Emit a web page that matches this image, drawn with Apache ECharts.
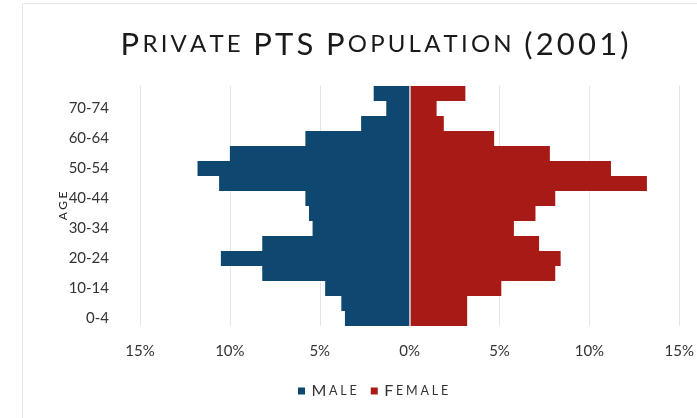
<!DOCTYPE html>
<html><head><meta charset="utf-8">
<script src="https://cdn.jsdelivr.net/npm/echarts@6/dist/echarts.min.js"></script>
<style>html,body{margin:0;padding:0;background:#fff}#c{width:697px;height:418px}</style>
</head><body><div id="c"></div>
<script>
const ageGroups = ['0-4','5-9','10-14','15-19','20-24','25-29','30-34','35-39','40-44','45-49','50-54','55-59','60-64','65-69','70-74','75+'];
const malePct = [3.6,3.8,4.7,8.2,10.5,8.2,5.4,5.6,5.8,10.6,11.8,10.0,5.8,2.7,1.3,2.0];
const femalePct = [3.2,3.2,5.1,8.1,8.4,7.2,5.8,7.0,8.1,13.2,11.2,7.8,4.7,1.9,1.5,3.1];
const xTicks = [-15,-10,-5,0,5,10,15];

const F = 'Lato, "DejaVu Sans", sans-serif';
// small-caps emulation: each character as its own rich token (gives letter spacing via padding)
const sc = (text) => {
  let out = '';
  text.split(' ').forEach((w, wi) => {
    if (wi > 0) out += '{s| }';
    const allCaps = w === w.toUpperCase();
    [...w].forEach((ch, i) => {
      const isBig = allCaps || i === 0 || !/[a-z]/.test(ch);
      out += '{' + (isBig ? 'b' : 's') + '|' + ch.toUpperCase() + '}';
    });
  });
  return out;
};

const chart = echarts.init(document.getElementById('c'));
chart.setOption({
  animation: false,
  backgroundColor: '#fff',
  graphic: [{type:'rect', shape:{x:22.5,y:3.5,width:700,height:420}, style:{fill:'none', stroke:'#e6e6ea', lineWidth:1}, silent:true}],
  title: {
    text: sc('Private PTS Population (2001)'),
    left: 114, top: 24,
    textStyle: { fontWeight: 'normal', rich: {
      b: {fontFamily: F, fontSize: 31, fontWeight: 'normal', color: '#1a1a1a', padding: [0, 1.6]},
      s: {fontFamily: F, fontSize: 24, fontWeight: 'normal', color: '#1a1a1a', padding: [0, 1.6]}
    }}
  },
  legend: {
    bottom: 14, left: 293,
    itemWidth: 7, itemHeight: 7, itemGap: 14,
    icon: 'rect',
    formatter: n => sc(n),
    textStyle: { rich: {
      b: {fontFamily: F, fontSize: 16, color: '#333', padding: [0, 1.4]},
      s: {fontFamily: F, fontSize: 12.5, color: '#333', padding: [0, 1.4]}
    }}
  },
  grid: {left: 140, right: 17, top: 86, bottom: 92},
  xAxis: {
    type: 'value', min: -15, max: 15, interval: 5,
    axisLine: {show: false}, axisTick: {show: false},
    splitLine: {lineStyle: {color: '#e4e4ec', width: 1}},
    axisLabel: {margin: 18, fontFamily: F, fontSize: 15, color: '#333', formatter: v => Math.abs(v) + '%'}
  },
  yAxis: {
    type: 'category', data: ageGroups,
    name: '{n|A}{n|G}{n|E}', nameLocation: 'middle', nameGap: 71, nameRotate: 90, nameMoveOverlap: false,
    nameTextStyle: {fontFamily: F, fontSize: 12, color: '#222', rich: {n: {fontFamily: F, fontSize: 12, color: '#222', padding: [0, 1.2]}}},
    axisLine: {show: false}, axisTick: {show: false},
    axisLabel: {interval: 1, margin: 31, fontFamily: F, fontSize: 15, color: '#333'}
  },
  series: [
    {name: 'Male', type: 'bar', data: malePct.map(v => -v), barGap: '-100%', barCategoryGap: 0,
     itemStyle: {color: '#0e4870'},
     markLine: {silent: true, symbol: 'none', label: {show: false}, lineStyle: {color: '#d8d8e0', type: 'solid', width: 1.5}, data: [{xAxis: 0}]}},
    {name: 'Female', type: 'bar', data: femalePct, barCategoryGap: 0,
     itemStyle: {color: '#a71a16'}}
  ]
});
</script></body></html>
